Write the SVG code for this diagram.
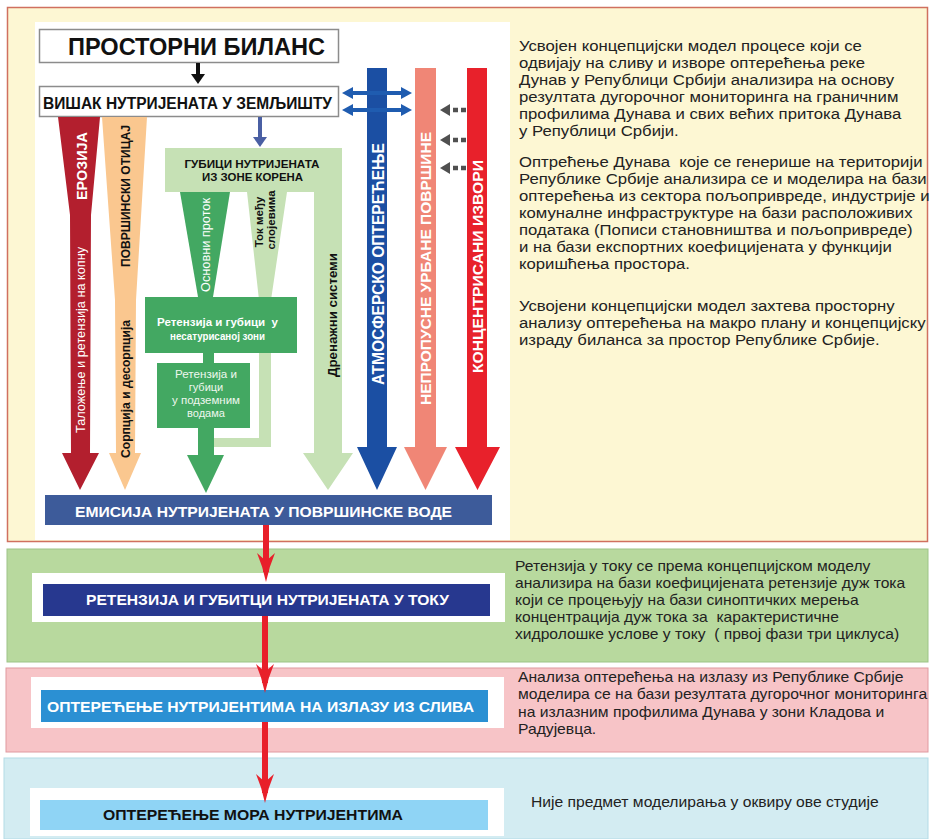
<svg xmlns="http://www.w3.org/2000/svg" width="930" height="839" viewBox="0 0 930 839">
<style>
.t{font-family:"Liberation Sans",Arial,sans-serif;}
.b{font-weight:bold;}
.para{font-family:"Liberation Sans",Arial,sans-serif;font-size:15px;fill:#222;}
.para2{font-family:"Liberation Sans",Arial,sans-serif;font-size:14px;fill:#222;}
.wt{fill:#fff;}
.bk{fill:#111;}
</style>
<defs>
<marker id="mBlack" markerUnits="userSpaceOnUse" markerWidth="12" markerHeight="14" refX="0" refY="0" orient="auto" overflow="visible"><path d="M0,-7 L10,0 L0,7 Z" fill="#111"/></marker>
<marker id="mBlueS" markerUnits="userSpaceOnUse" markerWidth="12" markerHeight="14" refX="0" refY="0" orient="auto" overflow="visible"><path d="M0,-7 L10,0 L0,7 Z" fill="#4a5fa3"/></marker>
<marker id="mBlue" markerUnits="userSpaceOnUse" markerWidth="12" markerHeight="14" refX="0" refY="0" orient="auto-start-reverse" overflow="visible"><path d="M0,-6 L11,0 L0,6 Z" fill="#1f5cb0"/></marker>
<marker id="mGrey" markerUnits="userSpaceOnUse" markerWidth="12" markerHeight="14" refX="0" refY="0" orient="auto" overflow="visible"><path d="M0,-6 L10,0 L0,6 Z" fill="#505050"/></marker>
<marker id="mRed" markerUnits="userSpaceOnUse" markerWidth="32" markerHeight="20" refX="19" refY="0" orient="auto" overflow="visible"><path d="M0,-9 Q14,-3 29,0 Q14,3 0,9 L8,0 Z" fill="#e8202a"/></marker>
</defs>

<!-- panels -->
<g id="panel-top">
<rect x="7.5" y="7.5" width="920" height="534" fill="#fdf7d3" stroke="#d0705f" stroke-width="1.5"/>
<rect x="35" y="22" width="475" height="518" fill="#ffffff"/>
</g>
<g id="panel-green">
<rect x="7" y="549" width="921" height="113" fill="#b8d99e" stroke="#9dc487" stroke-width="1"/>
<rect x="32" y="573" width="473" height="49" fill="#ffffff"/>
</g>
<g id="panel-pink">
<rect x="6" y="668" width="922" height="84" fill="#f7c4c7" stroke="#e09aa0" stroke-width="1"/>
<rect x="31" y="677" width="473" height="51" fill="#ffffff"/>
</g>
<g id="panel-blue">
<rect x="4" y="758" width="924" height="81" fill="#d3ecf2" stroke="#b3dbe6" stroke-width="1"/>
<rect x="30" y="788" width="474" height="48" fill="#ffffff"/>
</g>

<!-- nodes -->
<g id="node-prostorni-bilans">
<rect x="39.5" y="29.5" width="299" height="33" fill="#fff" stroke="#8c8c8c" stroke-width="1.5"/>
<text class="t b bk" x="196.5" y="55" font-size="24" text-anchor="middle" textLength="257" lengthAdjust="spacingAndGlyphs">ПРОСТОРНИ БИЛАНС</text>
</g>
<g id="node-visak">
<rect x="39.5" y="86.5" width="299" height="30" fill="#fff" stroke="#8c8c8c" stroke-width="1.5"/>
<text class="t b bk" x="187.5" y="109" font-size="16" text-anchor="middle" textLength="289" lengthAdjust="spacingAndGlyphs">ВИШАК НУТРИЈЕНАТА У ЗЕМЉИШТУ</text>
</g>

<g id="node-erozija">
<path d="M58,117 L100,117 L91,215 L90,453 L99,453 L80,490 L62,453 L71,453 L70,215 Z" fill="#b31f2e"/>
<text class="t b wt" transform="translate(82,166) rotate(-90)" font-size="15" text-anchor="middle" dy="0.36em" textLength="68" lengthAdjust="spacingAndGlyphs">ЕРОЗИЈА</text>
<text class="t wt" transform="translate(80.5,340) rotate(-90)" font-size="12" text-anchor="middle" dy="0.36em" textLength="186" lengthAdjust="spacingAndGlyphs">Таложење и ретензија на копну</text>
</g>

<g id="node-povrsinski-oticaj">
<path d="M102,117 L147,117 L136,300 L135,453 L141,453 L125,490 L109,453 L116,453 L115,300 Z" fill="#fac78f"/>
<text class="t b bk" transform="translate(126,196) rotate(-90)" font-size="12" text-anchor="middle" dy="0.36em" textLength="142" lengthAdjust="spacingAndGlyphs">ПОВРШИНСКИ ОТИЦАЈ</text>
<text class="t b bk" transform="translate(125.5,389) rotate(-90)" font-size="12" text-anchor="middle" dy="0.36em" textLength="138" lengthAdjust="spacingAndGlyphs">Сорпција и десорпција</text>
</g>

<g id="node-gubici-koren">
<path d="M165,148 H342 V453 H353 L328,490 L303,453 H314 V192 H165 Z" fill="#c6e1b5"/>
<text class="t b bk" x="252" y="168" font-size="11" text-anchor="middle" textLength="135" lengthAdjust="spacingAndGlyphs">ГУБИЦИ НУТРИЈЕНАТА</text>
<text class="t b bk" x="252.5" y="181" font-size="11" text-anchor="middle" textLength="101" lengthAdjust="spacingAndGlyphs">ИЗ ЗОНЕ КОРЕНА</text>
<text class="t b bk" transform="translate(332,315) rotate(-90)" font-size="13" text-anchor="middle" dy="0.36em" textLength="124" lengthAdjust="spacingAndGlyphs">Дренажни системи</text>
</g>

<g id="node-tok-medju-slojevima">
<path d="M247,192 L287,192 L271,300 L271,447 L213,447 L213,438 L259,438 L259,300 Z" fill="#c6e1b5"/>
<text class="t b bk" transform="translate(258.5,222) rotate(-90)" font-size="11.5" text-anchor="middle" dy="0.36em">Ток међу</text>
<text class="t b bk" transform="translate(271,220) rotate(-90)" font-size="11.5" text-anchor="middle" dy="0.36em">слојевима</text>
</g>

<g id="node-osnovni-protok">
<path d="M180,192 L230,192 L213,297 L198,297 Z" fill="#43a862"/>
<text class="t wt" transform="translate(205.5,245) rotate(-90)" font-size="12" text-anchor="middle" dy="0.36em" textLength="94" lengthAdjust="spacingAndGlyphs">Основни проток</text>
</g>

<g id="node-nesaturisana">
<rect x="145" y="297" width="152" height="56" fill="#43a862"/>
<text class="t b wt" x="217.5" y="326" font-size="11" text-anchor="middle" textLength="121" lengthAdjust="spacingAndGlyphs">Ретензија и губици&#160; у</text>
<text class="t b wt" x="217.5" y="340" font-size="11" text-anchor="middle" textLength="95" lengthAdjust="spacingAndGlyphs">несатурисаној зони</text>
</g>

<g id="node-podzemne">
<rect x="203" y="352" width="11" height="12" fill="#43a862"/>
<rect x="157" y="363" width="93" height="65" fill="#43a862"/>
<path d="M198,427 H214 V455 H224 L206,493 L187,455 H198 Z" fill="#43a862"/>
<g class="t" font-size="11" fill="#eef7ee" text-anchor="middle">
<text x="206" y="378" textLength="62" lengthAdjust="spacingAndGlyphs">Ретензија и</text>
<text x="206" y="391">губици</text>
<text x="206" y="404" textLength="68" lengthAdjust="spacingAndGlyphs">у подземним</text>
<text x="206" y="417">водама</text>
</g>
</g>

<g id="node-atmosfersko">
<path d="M367,68 H387 V447 H397 L377,490 L357,447 H367 Z" fill="#1b4fa3"/>
<text class="t b wt" transform="translate(378,264) rotate(-90)" font-size="16" text-anchor="middle" dy="0.36em" textLength="242" lengthAdjust="spacingAndGlyphs">АТМОСФЕРСКО ОПТЕРЕЋЕЊЕ</text>
</g>
<g id="node-nepropusne">
<path d="M415,68 H436 V447 H447 L425.5,490 L404,447 H415 Z" fill="#f08676"/>
<text class="t b wt" transform="translate(426,268.5) rotate(-90)" font-size="15" text-anchor="middle" dy="0.36em" textLength="273" lengthAdjust="spacingAndGlyphs">НЕПРОПУСНЕ УРБАНЕ ПОВРШИНЕ</text>
</g>
<g id="node-koncentrisani">
<path d="M467,68 H487 V447 H500 L477.5,490 L455,447 H467 Z" fill="#e8212b"/>
<text class="t b wt" transform="translate(478,266.5) rotate(-90)" font-size="15" text-anchor="middle" dy="0.36em" textLength="213" lengthAdjust="spacingAndGlyphs">КОНЦЕНТРИСАНИ ИЗВОРИ</text>
</g>

<g id="node-emisija">
<rect x="45" y="495" width="447" height="30" fill="#3d5b9a"/>
<text class="t b wt" x="263.5" y="517" font-size="15" text-anchor="middle" textLength="377" lengthAdjust="spacingAndGlyphs">ЕМИСИЈА НУТРИЈЕНАТА У ПОВРШИНСКЕ ВОДЕ</text>
</g>

<g id="node-retenzija-tok">
<rect x="43" y="584" width="447" height="32" fill="#27388f"/>
<text class="t b wt" x="267.5" y="605" font-size="14" text-anchor="middle" textLength="363" lengthAdjust="spacingAndGlyphs">РЕТЕНЗИЈА И ГУБИТЦИ НУТРИЈЕНАТА У ТОКУ</text>
</g>
<g id="node-izlaz-sliv">
<rect x="41" y="690" width="447" height="32" fill="#2b90d3"/>
<text class="t b wt" x="260.5" y="712" font-size="14" text-anchor="middle" textLength="427" lengthAdjust="spacingAndGlyphs">ОПТЕРЕЋЕЊЕ НУТРИЈЕНТИМА НА ИЗЛАЗУ ИЗ СЛИВА</text>
</g>
<g id="node-more">
<rect x="40" y="800" width="448" height="30" fill="#8fd4f5"/>
<text class="t b bk" x="253" y="820" font-size="14" text-anchor="middle" textLength="300" lengthAdjust="spacingAndGlyphs">ОПТЕРЕЋЕЊЕ МОРА НУТРИЈЕНТИМА</text>
</g>

<!-- connectors -->
<g id="connectors">
<line x1="198" y1="63" x2="198" y2="74" stroke="#111" stroke-width="4" marker-end="url(#mBlack)"/>
<line x1="260" y1="117" x2="260" y2="137" stroke="#4a5fa3" stroke-width="4" marker-end="url(#mBlueS)"/>
<line x1="353" y1="93" x2="401" y2="93" stroke="#1f5cb0" stroke-width="4" marker-start="url(#mBlue)" marker-end="url(#mBlue)"/>
<line x1="353" y1="110" x2="401" y2="110" stroke="#1f5cb0" stroke-width="4" marker-start="url(#mBlue)" marker-end="url(#mBlue)"/>
<g stroke="#505050" stroke-width="4.5" stroke-dasharray="5 3" fill="none">
<line x1="466" y1="110" x2="450" y2="110" marker-end="url(#mGrey)"/>
<line x1="466" y1="140" x2="450" y2="140" marker-end="url(#mGrey)"/>
<line x1="466" y1="168" x2="450" y2="168" marker-end="url(#mGrey)"/>
</g>
<g stroke="#e8202a" stroke-width="6">
<line x1="266" y1="525" x2="266" y2="572" marker-end="url(#mRed)"/>
<line x1="265" y1="616" x2="265" y2="683" marker-end="url(#mRed)"/>
<line x1="265" y1="722" x2="265" y2="793" marker-end="url(#mRed)"/>
</g>
</g>

<!-- texts -->
<g id="text-top" class="para" transform="translate(519,0) scale(1.115,1) translate(-519,0)">
<text x="519" y="51">Усвојен концепцијски модел процесе који се</text>
<text x="519" y="68">одвијају на сливу и изворе оптерећења реке</text>
<text x="519" y="85">Дунав у Републици Србији анализира на основу</text>
<text x="519" y="102">резултата дугорочног мониторинга на граничним</text>
<text x="519" y="119">профилима Дунава и свих већих притока Дунава</text>
<text x="519" y="136">у Републици Србији.</text>
<text x="519" y="167">Оптрећење Дунава&#160; које се генерише на територији</text>
<text x="519" y="184">Републике Србије анализира се и моделира на бази</text>
<text x="519" y="201">оптерећења из сектора пољопривреде, индустрије и</text>
<text x="519" y="218">комуналне инфраструктуре на бази расположивих</text>
<text x="519" y="235">података (Пописи становништва и пољопривреде)</text>
<text x="519" y="252">и на бази експортних коефицијената у функцији</text>
<text x="519" y="269">коришћења простора.</text>
<text x="519" y="311">Усвојени концепцијски модел захтева просторну</text>
<text x="519" y="328">анализу оптерећења на макро плану и концепцијску</text>
<text x="519" y="345">израду биланса за простор Републике Србије.</text>
</g>
<g id="text-green" class="para2" transform="translate(515,0) scale(1.117,1) translate(-515,0)">
<text x="515" y="571">Ретензија у току се према концепцијском моделу</text>
<text x="515" y="588">анализира на бази коефицијената ретензије дуж тока</text>
<text x="515" y="605">који се процењују на бази синоптичких мерења</text>
<text x="515" y="622">концентрација дуж тока за&#160; карактеристичне</text>
<text x="515" y="639">хидролошке услове у току&#160; ( првој фази три циклуса)</text>
</g>
<g id="text-pink" class="para2" transform="translate(518,0) scale(1.12,1) translate(-518,0)">
<text x="518" y="682">Анализа оптерећења на излазу из Републике Србије</text>
<text x="518" y="699">моделира се на бази резултата дугорочног мониторинга</text>
<text x="518" y="717">на излазним профилима Дунава у зони Кладова и</text>
<text x="518" y="734">Радујевца.</text>
</g>
<g id="text-blue" class="para2" transform="translate(531,0) scale(1.12,1) translate(-531,0)">
<text x="531" y="807">Није предмет моделирања у оквиру ове студије</text>
</g>
</svg>
